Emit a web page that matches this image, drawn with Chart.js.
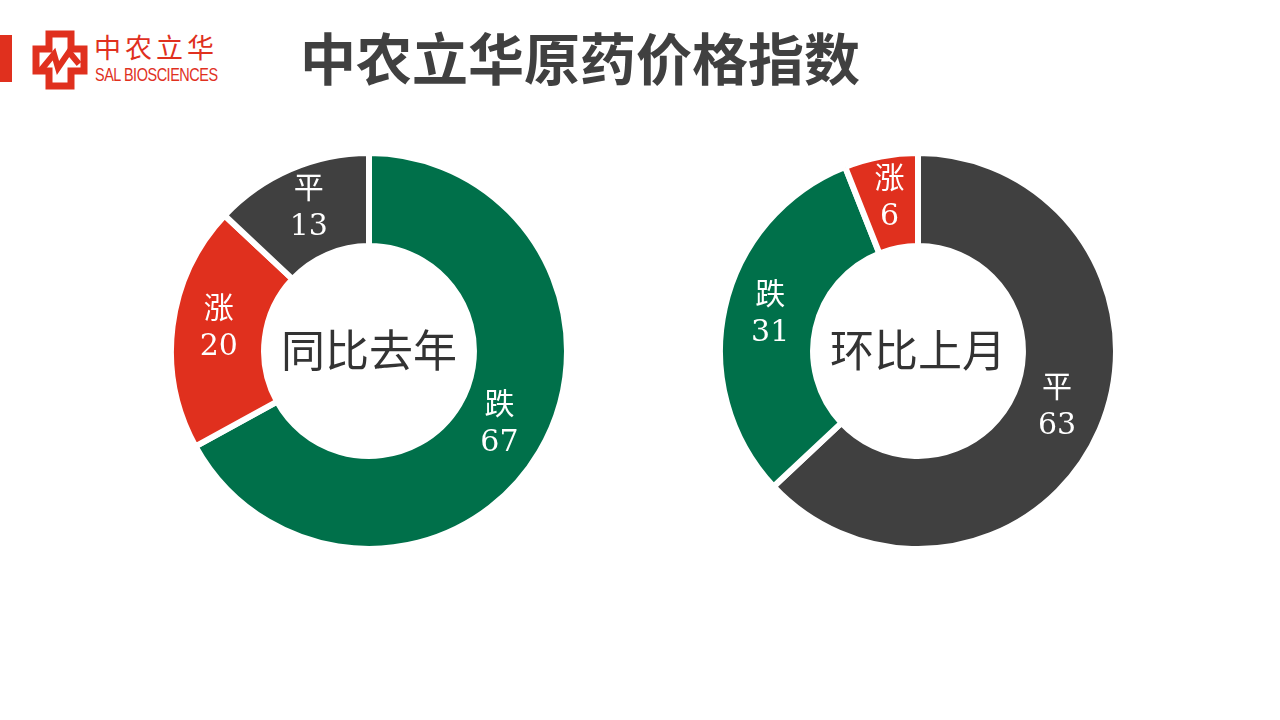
<!DOCTYPE html>
<html>
<head>
<meta charset="utf-8">
<script src="https://cdn.jsdelivr.net/npm/chart.js@4.4.0/dist/chart.umd.min.js"></script>
<style>
  html, body { margin: 0; padding: 0; background: #fff; }
  body { width: 1280px; height: 720px; position: relative; overflow: hidden; }
  .bar { position: absolute; left: 0; top: 35px; width: 12px; height: 47px; background: #e0301e; }
  .logo-icon { position: absolute; left: 32px; top: 30px; }
  .logo-cn { position: absolute; left: 94px; top: 30px; font: 27px "Noto Sans CJK SC", sans-serif; color: #e0301e; letter-spacing: 4px; line-height: 34px; }
  .logo-en { position: absolute; left: 95px; top: 64px; font: 19px "Liberation Sans", Arial, sans-serif; color: #e0301e; letter-spacing: -0.6px;
             transform: scaleX(0.76); transform-origin: left top; white-space: nowrap; line-height: 22px; }
  .title { position: absolute; left: 300px; top: 22px; font: bold 56px "Noto Sans CJK SC", sans-serif; color: #404040; line-height: 68px; white-space: nowrap; }
  .chart-box { position: absolute; width: 402px; height: 402px; top: 150px; }
  #yoy-box { left: 168px; }
  #mom-box { left: 717px; }
</style>
</head>
<body>
<div class="bar"></div>
<svg class="logo-icon" width="56" height="60" viewBox="0 0 56 60">
  <path d="M17 4 H39 V19 H52 V41 H39 V56 H17 V41 H4 V19 H17 Z" fill="none" stroke="#e0301e" stroke-width="7" stroke-linejoin="miter"/>
  <polyline points="9,40 22,24 26,38 37,22 47,34" fill="none" stroke="#e0301e" stroke-width="6"/>
</svg>
<div class="logo-cn">中农立华</div>
<div class="logo-en">SAL BIOSCIENCES</div>
<div class="title">中农立华原药价格指数</div>

<div class="chart-box" id="yoy-box"><canvas id="yoy-chart"></canvas></div>
<div class="chart-box" id="mom-box"><canvas id="mom-chart"></canvas></div>

<script>
// Data
const yoyTitle = '同比去年';
const yoyLabels = ['跌', '涨', '平'];
const yoyValues = [67, 20, 13];

const momTitle = '环比上月';
const momLabels = ['平', '跌', '涨'];
const momValues = [63, 31, 6];

// Colours per category
const categoryColors = {
    '跌': '#00704a',
    '涨': '#e0301e',
    '平': '#404040'
};

// Faint cream halo round the ring, like the original slide
const haloPlugin = {
    id: 'halo',
    beforeDatasetsDraw(chart) {
        const arc = chart.getDatasetMeta(0).data[0];
        if (!arc) return;
        const ctx = chart.ctx;
        ctx.save();
        ctx.strokeStyle = 'rgba(236, 230, 200, 0.7)';
        ctx.lineWidth = 3;
        ctx.beginPath();
        ctx.arc(arc.x, arc.y, arc.outerRadius - 1, 0, Math.PI * 2);
        ctx.stroke();
        ctx.beginPath();
        ctx.arc(arc.x, arc.y, arc.innerRadius + 1, 0, Math.PI * 2);
        ctx.stroke();
        ctx.restore();
    }
};

// Draws "name / value" on each slice and the title in the hole
const sliceLabelPlugin = {
    id: 'sliceLabels',
    afterDatasetsDraw(chart, args, opts) {
        const ctx = chart.ctx;
        const meta = chart.getDatasetMeta(0);
        const values = chart.data.datasets[0].data;
        ctx.save();
        ctx.textAlign = 'center';
        ctx.textBaseline = 'middle';
        ctx.fillStyle = '#ffffff';
        ctx.font = '30px "DejaVu Serif", "Liberation Serif", "Noto Sans CJK SC", serif';
        meta.data.forEach((arc, i) => {
            const pos = arc.tooltipPosition();
            ctx.fillText(chart.data.labels[i], pos.x, pos.y - 22);
            ctx.fillText(String(values[i]), pos.x, pos.y + 15);
        });

        // centre text
        const first = meta.data[0];
        ctx.fillStyle = '#333333';
        ctx.font = '44px "Liberation Serif", "Noto Sans CJK SC", serif';
        ctx.fillText(opts.text, first.x, first.y + 4);
        ctx.restore();
    }
};

function makeDoughnut(canvasId, labels, values, title) {
    const ctx = document.getElementById(canvasId);
    return new Chart(ctx, {
        type: 'doughnut',
        data: {
            labels: labels,
            datasets: [{
                data: values,
                backgroundColor: labels.map(l => categoryColors[l]),
                borderColor: '#ffffff',
                borderWidth: 6,
                hoverOffset: 0
            }]
        },
        options: {
            responsive: true,
            maintainAspectRatio: false,
            animation: false,
            cutout: '53%',
            layout: { padding: 0 },
            plugins: {
                legend: { display: false },
                tooltip: { enabled: false },
                sliceLabels: { text: title }
            }
        },
        plugins: [haloPlugin, sliceLabelPlugin]
    });
}

makeDoughnut('yoy-chart', yoyLabels, yoyValues, yoyTitle);
makeDoughnut('mom-chart', momLabels, momValues, momTitle);
</script>
</body>
</html>
